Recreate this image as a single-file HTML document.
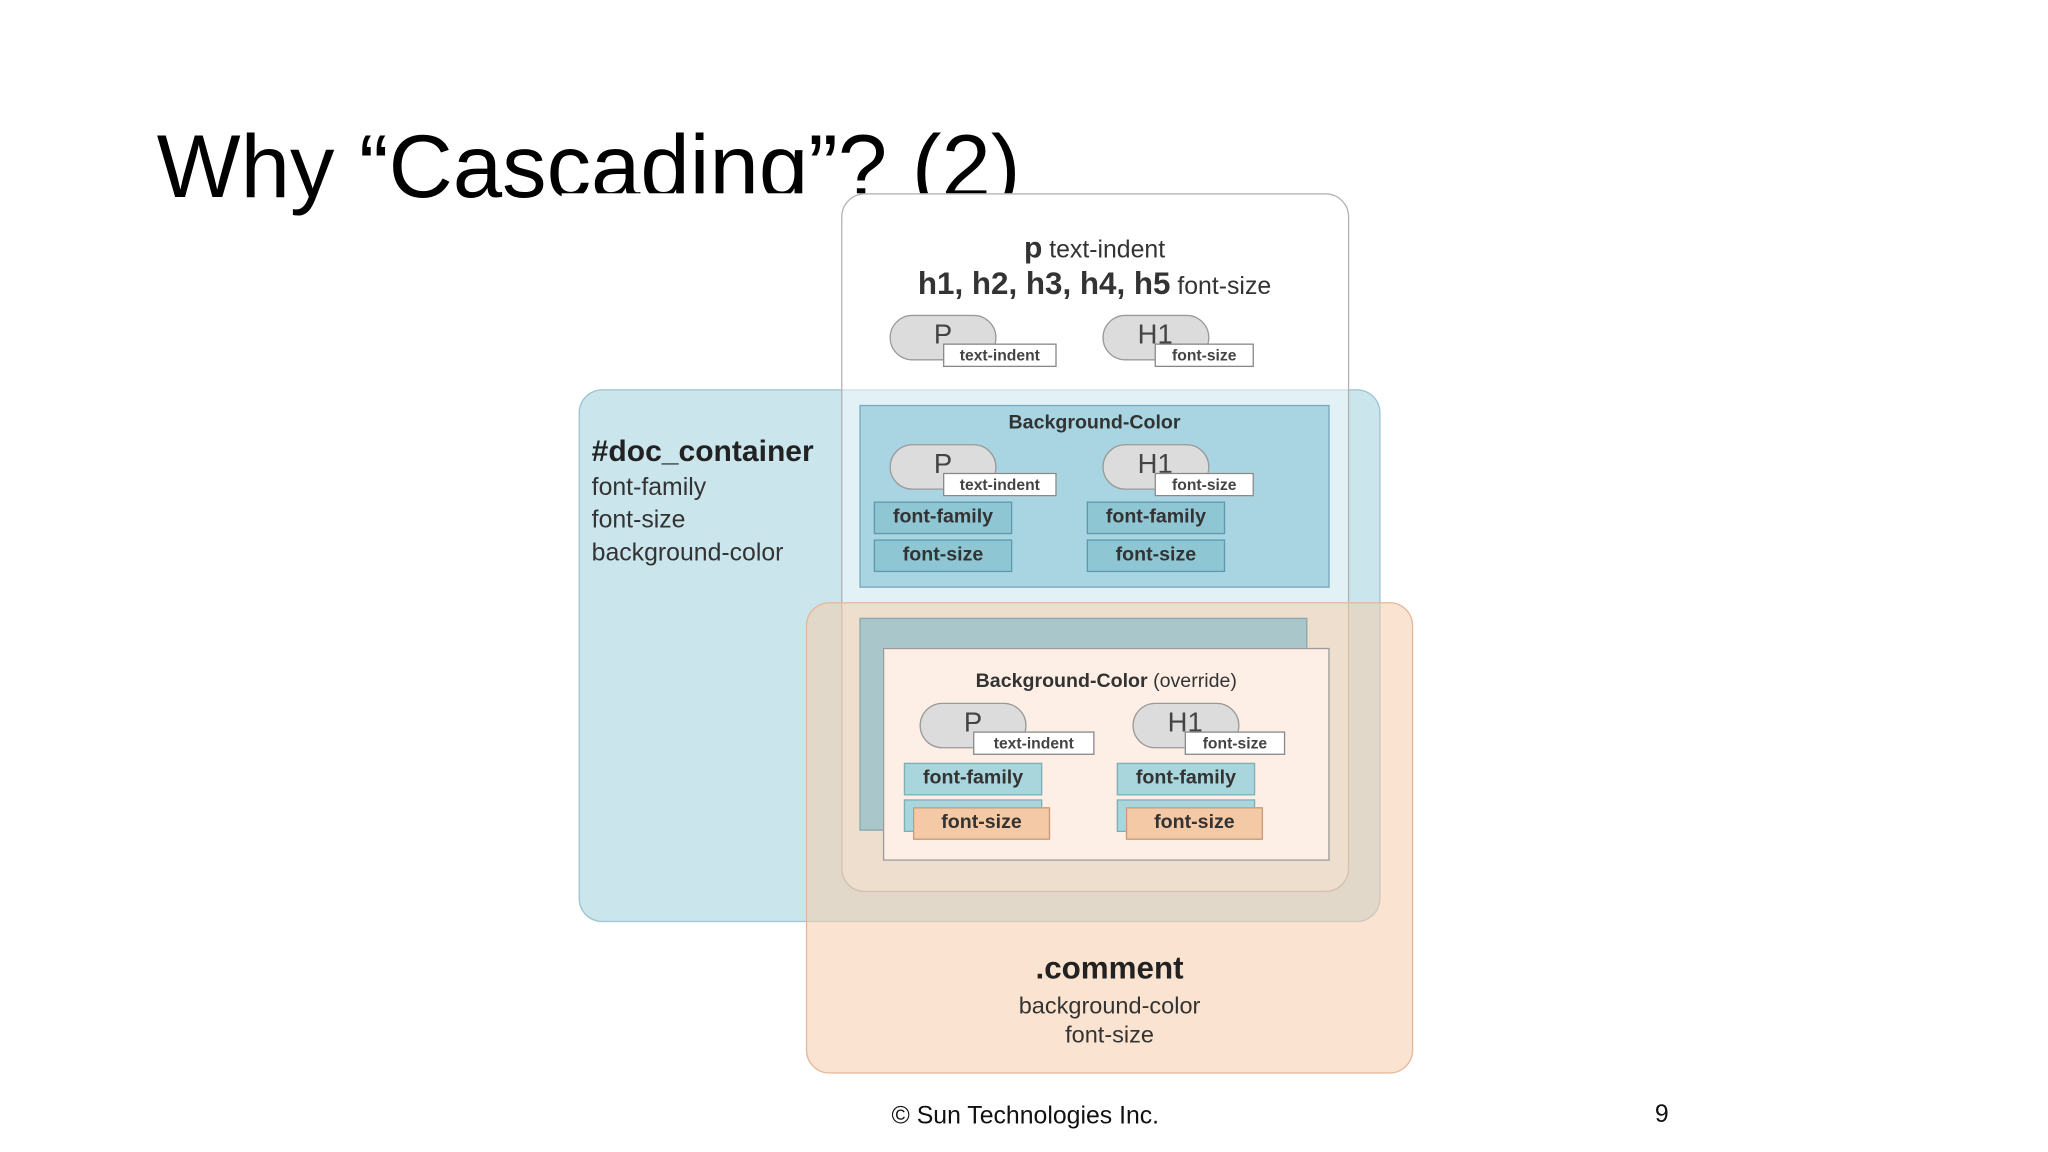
<!DOCTYPE html>
<html><head><meta charset="utf-8"><style>
html,body{margin:0;padding:0;background:#fff;}
body{width:2048px;height:1152px;overflow:hidden;position:relative;font-family:"Liberation Sans",Arial,sans-serif;}
#s{position:absolute;left:0;top:0;width:1568px;height:882px;transform:scale(1.306122);transform-origin:0 0;}
.a{position:absolute;box-sizing:border-box;}
.t{position:absolute;white-space:nowrap;color:#333;}
.pill{position:absolute;box-sizing:border-box;width:82px;height:35px;border-radius:18px;background:#dcdcdc;border:1.5px solid #9a9a9a;font-size:21px;color:#444;padding-left:33px;line-height:30px;}
.lab{position:absolute;box-sizing:border-box;height:18px;background:#fff;border:1px solid #888;font-size:12px;font-weight:bold;color:#444;text-align:center;line-height:16px;}
.ff{position:absolute;box-sizing:border-box;height:25px;width:106px;border:1.5px solid #5e9aae;background:#8fc6d4;font-size:15px;font-weight:bold;color:#333;text-align:center;line-height:22px;}
</style></head><body><div id="s">
<div class="t" style="left:120px;top:88px;font-size:68px;color:#000;line-height:80px;">Why “Cascading”? (2)</div>
<div class="a" style="left:430px;top:148px;width:660px;height:680px;background:#fff;"></div>
<!-- doc container -->
<div class="a" style="left:443px;top:298px;width:614px;height:408px;border-radius:18px;background:#cbe5ed;border:1.5px solid #9cc4d2;"></div>
<!-- top box -->
<div class="a" style="left:644px;top:148px;width:389px;height:535px;border-radius:18px;background:rgba(255,255,255,0.45);border:1.5px solid #b0b0b0;"></div>
<div class="a" style="left:645px;top:149px;width:387px;height:149px;border-radius:17px 17px 0 0;background:#fff;"></div>
<!-- comment -->
<div class="a" style="left:617px;top:461px;width:465px;height:361px;border-radius:18px;background:rgba(246,205,172,0.55);border:1.5px solid #e2b89a;"></div>

<div class="t" style="left:0;width:1676px;text-align:center;top:176px;font-size:19px;"><b style="font-size:23px">p</b> text-indent</div>
<div class="t" style="left:0;width:1676px;text-align:center;top:204px;font-size:19px;"><b style="font-size:24px">h1, h2, h3, h4, h5</b> font-size</div>
<div class="pill" style="left:681px;top:241px;">P</div><div class="lab" style="left:722px;top:263px;width:87px;">text-indent</div>
<div class="pill" style="left:844px;top:241px;padding-left:26px;">H1</div><div class="lab" style="left:884px;top:263px;width:76px;">font-size</div>

<!-- bg color box -->
<div class="a" style="left:658px;top:310px;width:360px;height:140px;background:#a9d5e2;border:1.5px solid #7aa9bd;"></div>
<div class="t" style="left:658px;width:360px;text-align:center;top:315px;font-size:15px;font-weight:bold;">Background-Color</div>
<div class="pill" style="left:681px;top:340px;">P</div><div class="lab" style="left:722px;top:362px;width:87px;">text-indent</div>
<div class="pill" style="left:844px;top:340px;padding-left:26px;">H1</div><div class="lab" style="left:884px;top:362px;width:76px;">font-size</div>
<div class="ff" style="left:669px;top:384px;">font-family</div><div class="ff" style="left:669px;top:413px;">font-size</div>
<div class="ff" style="left:832px;top:384px;">font-family</div><div class="ff" style="left:832px;top:413px;">font-size</div>

<div class="t" style="left:453px;top:332px;font-size:23px;font-weight:bold;color:#222;">#doc_container</div>
<div class="t" style="left:453px;top:361px;font-size:19px;line-height:25px;">font-family<br>font-size<br>background-color</div>

<!-- lower -->
<div class="a" style="left:658px;top:473px;width:343px;height:163px;background:#a9c7cb;border:1.5px solid #8aa9ad;"></div>
<div class="a" style="left:676px;top:496px;width:342px;height:163px;background:#fdefe5;border:1.5px solid #9a9a9a;"></div>
<div class="t" style="left:676px;width:342px;text-align:center;top:513px;font-size:15px;"><b>Background-Color</b> (override)</div>
<div class="pill" style="left:704px;top:538px;">P</div><div class="lab" style="left:745px;top:560px;width:93px;">text-indent</div>
<div class="pill" style="left:867px;top:538px;padding-left:26px;">H1</div><div class="lab" style="left:907px;top:560px;width:77px;">font-size</div>
<div class="ff" style="left:692px;top:584px;background:#a9d6dc;border-color:#7fb0b9;">font-family</div>
<div class="ff" style="left:855px;top:584px;background:#a9d6dc;border-color:#7fb0b9;">font-family</div>
<div class="ff" style="left:692px;top:612px;background:#a9d6dc;border-color:#7fb0b9;"></div>
<div class="ff" style="left:855px;top:612px;background:#a9d6dc;border-color:#7fb0b9;"></div>
<div class="ff" style="left:699px;top:618px;width:105px;background:#f3c9a6;border-color:#c99a7a;">font-size</div>
<div class="ff" style="left:862px;top:618px;width:105px;background:#f3c9a6;border-color:#c99a7a;">font-size</div>

<div class="t" style="left:617px;width:465px;text-align:center;top:728px;font-size:24px;font-weight:bold;color:#222;">.comment</div>
<div class="t" style="left:617px;width:465px;text-align:center;top:759px;font-size:18px;line-height:22px;">background-color<br>font-size</div>

<div class="t" style="left:585px;width:400px;text-align:center;top:844px;font-size:19px;color:#111;">© Sun Technologies Inc.</div>
<div class="t" style="left:1267px;top:843px;font-size:19px;color:#111;">9</div>
</div></body></html>
